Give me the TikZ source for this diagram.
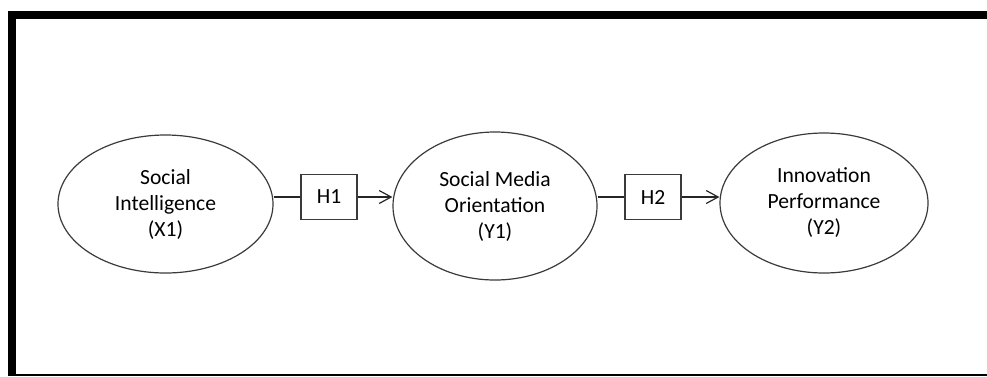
\documentclass[tikz,border=0pt]{standalone}
\usepackage{fontspec}
\setmainfont{Carlito}
\usetikzlibrary{shapes.geometric,arrows.meta}
\definecolor{edgegray}{HTML}{3A3A3A}
\tikzset{
  construct/.style={ellipse, draw=edgegray, line width=1.2pt, inner sep=0pt, align=center,
    font=\fontsize{21.6}{26}\selectfont},
  hypbox/.style={rectangle, draw=edgegray, line width=1.2pt, inner sep=0pt,
    minimum width=56pt, minimum height=45pt, font=\fontsize{21.6}{26}\selectfont},
  link/.style={draw=black!85, line width=1.2pt},
  arrowlink/.style={link, -{Straight Barb[length=12pt,width=13pt,line width=1.2pt]}}
}
\begin{document}
\begin{tikzpicture}[x=1pt,y=-1pt]
\useasboundingbox (0,0) rectangle (987,376);
% frame
\fill[black] (7.5,11) rectangle (987,19);
\fill[black] (7.5,11) rectangle (16,376);
\draw[black, line width=1.5pt] (16,374.8) -- (987,374.8);
% constructs
\node[construct, minimum width=215pt, minimum height=138pt] (E1) at (165.5,204) {Social\\Intelligence\\(X1)};
\node[construct, minimum width=204pt, minimum height=148pt] (E2) at (495,206) {Social Media\\Orientation\\(Y1)};
\node[construct, minimum width=208pt, minimum height=140pt] (E3) at (824,203) {Innovation\\Performance\\(Y2)};
% hypotheses
\node[hypbox] (H1) at (329,197) {H1};
\node[hypbox] (H2) at (653,197) {H2};
% connectors
\draw[link] (H1.west -| E1.east) -- (H1.west);
\draw[arrowlink] (H1.east) -- (H1.east -| E2.west);
\draw[link] (H2.west -| E2.east) -- (H2.west);
\draw[arrowlink] (H2.east) -- (H2.east -| E3.west);
\end{tikzpicture}
\end{document}
